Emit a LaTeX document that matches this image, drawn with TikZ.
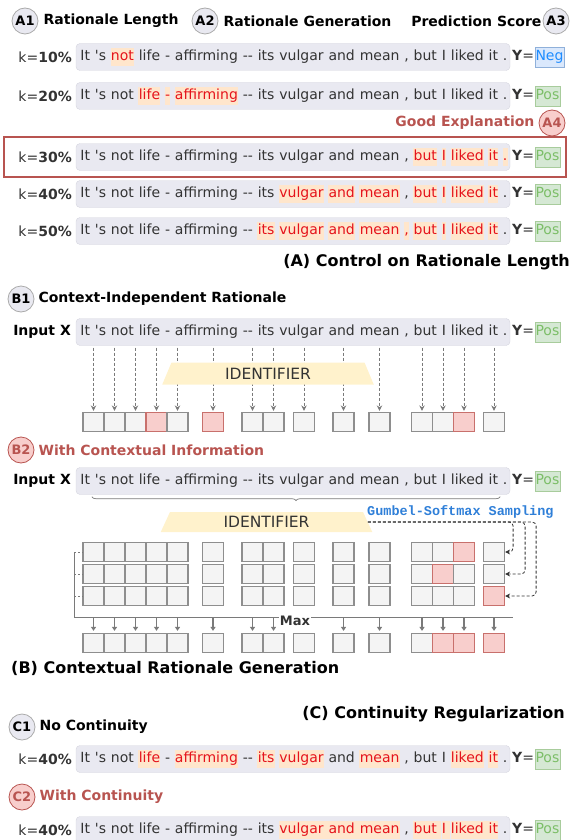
\documentclass[tikz,border=0pt]{standalone}
\usepackage{fontspec}
\setmainfont{DejaVu Sans}
\setmonofont{Liberation Mono}
\usetikzlibrary{positioning,shapes.geometric,decorations.pathreplacing,arrows.meta}

\definecolor{txt}{HTML}{333333}
\definecolor{sentbg}{HTML}{E9E9F1}
\definecolor{sentln}{HTML}{D5D5DF}
\definecolor{hlbg}{HTML}{FFE6CC}
\definecolor{hltx}{HTML}{E5131B}
\definecolor{darkred}{HTML}{B85450}
\definecolor{lightred}{HTML}{F8CECC}
\definecolor{cellred}{HTML}{C8706C}
\definecolor{posbg}{HTML}{D5E8D4}
\definecolor{posln}{HTML}{A8CC9C}
\definecolor{postx}{HTML}{7CBE68}
\definecolor{negbg}{HTML}{DAE8FC}
\definecolor{negln}{HTML}{8FB0DA}
\definecolor{negtx}{HTML}{1E8CFF}
\definecolor{idbg}{HTML}{FFF2CC}
\definecolor{cellbg}{HTML}{F4F4F4}
\definecolor{cellln}{HTML}{8E8E8E}
\definecolor{circln}{HTML}{AAAAAA}
\definecolor{arrgray}{HTML}{7A7A7A}
\definecolor{gumbel}{HTML}{2F7FD8}

\tikzset{
  tok/.style={inner xsep=0.3pt, inner ysep=1.8pt, text height=10.5pt, text depth=3pt},
  sentbox/.style={draw=sentln, fill=sentbg, rounded corners=4pt, minimum width=434pt, minimum height=27pt, inner sep=0pt},
  resPos/.style={tok, fill=posbg, draw=posln, text=postx, inner xsep=0.4pt, inner ysep=3pt},
  resNeg/.style={tok, fill=negbg, draw=negln, text=negtx, inner xsep=0.4pt, inner ysep=3pt},
  klab/.style={anchor=east, inner sep=0pt, text=txt},
  circ/.style={circle, draw=circln, fill=sentbg, line width=0.8pt, minimum size=26pt, inner sep=0pt, font=\bfseries\fontsize{13}{14}\selectfont},
  circred/.style={circ, draw=darkred, fill=lightred, text=darkred},
  head/.style={inner sep=0pt, font=\bfseries\fontsize{14}{16}\selectfont},
  title/.style={inner sep=0pt, font=\bfseries\fontsize{16}{18}\selectfont},
  ident/.style={trapezium, trapezium stretches=true, trapezium left angle=70, trapezium right angle=70, fill=idbg, minimum width=212pt, minimum height=22pt, inner sep=0pt, text=txt, font=\fontsize{15.5}{17}\selectfont},
  cell/.style={line width=1.2pt, minimum width=21pt, minimum height=19pt, inner sep=0pt},
  dasharr/.style={draw=arrgray, dash pattern=on 3pt off 2pt, line width=0.9pt, -{Stealth[length=5.5pt, width=5.5pt]}, shorten <=2pt, shorten >=1pt},
  gumarr/.style={draw=txt, densely dashed, line width=0.8pt, rounded corners=4pt, -{Stealth[length=5pt, width=5pt]}},
  maxln/.style={draw=arrgray, line width=0.8pt},
  maxarr/.style={draw=arrgray, line width=1.2pt, -{Triangle[length=4pt, width=5pt]}},
  brc/.style={draw=arrgray, line width=0.7pt, decorate, decoration={brace, mirror, amplitude=4pt}},
}

% one sentence: name, y, highlighted tokens, label
\newcommand{\sentrow}[4]{%
  \node[sentbox] (#1) at (293,#2) {};
  \coordinate (#1-0) at (76,#2);
  \foreach \w [count=\i] in {It,\textquotesingle s,not,life,-,affirming,-{}-,its,vulgar,and,mean,{,},but,I,liked,it,.}{%
    \gdef\tkfill{none}\gdef\tktext{txt}%
    \foreach \j in {#3}{\ifnum\i=\j\relax\gdef\tkfill{hlbg}\gdef\tktext{hltx}\fi}%
    \pgfmathtruncatemacro\prev{\i-1}%
    \node[tok, fill=\tkfill, text=\tktext, right=3.9pt of #1-\prev] (#1-\i) {\w};
  }%
  \node[tok, anchor=west, inner xsep=0pt, text=txt] (#1-y) at (512,#2) {\textbf{Y}=};
  \node[res#4, right=0.5pt of #1-y] (#1-r) {#4};
}

% one row of cells: name, y, red cells
\newcommand{\cellrow}[3]{%
  \foreach \x [count=\i] in {93.5,114.5,135.5,156.5,177.5,213,252.5,273.5,304,343.5,379.5,422,443,464,494}{%
    \gdef\cfill{cellbg}\gdef\cdraw{cellln}%
    \foreach \j in {#3}{\ifnum\i=\j\relax\gdef\cfill{lightred}\gdef\cdraw{cellred}\fi}%
    \node[cell, fill=\cfill, draw=\cdraw] (#1-\i) at (\x,#2) {};
  }%
}

\begin{document}
\begin{tikzpicture}[x=1pt, y=-1pt, font=\fontsize{14}{16}\selectfont]
  \useasboundingbox (0,0) rectangle (572,840);

  %header
  \node[circ] (a1) at (25,21) {A1};
  \node[head, right=5pt of a1] (a1t) {Rationale Length};
  \node[circ] (a2) at (205,21) {A2};
  \node[head, right=5pt of a2] (a2t) {Rationale Generation};
  \node[circ] (a3) at (556,21) {A3};
  \node[head, left=1pt of a3] (a3t) {Prediction Score};

  %(A) rows
  \node[klab] (k10) at (72,57) {k=\textbf{10\%}};
  \sentrow{r10}{57}{3}{Neg}
  \node[klab] (k20) at (72,96) {k=\textbf{20\%}};
  \sentrow{r20}{96}{4,5,6}{Pos}

  \node[circred] (a4) at (552,123) {A4};
  \node[head, text=darkred, left=4pt of a4] (good) {Good Explanation};
  \node[draw=darkred, line width=1.3pt, minimum width=562pt, minimum height=40pt, inner sep=0pt] (frame) at (285,157) {};

  \node[klab] (k30) at (72,157) {k=\textbf{30\%}};
  \sentrow{r30}{157}{13,14,15,16,17}{Pos}
  \node[klab] (k40) at (72,194) {k=\textbf{40\%}};
  \sentrow{r40}{194}{9,10,11,13,14,15,16}{Pos}
  \node[klab] (k50) at (72,231) {k=\textbf{50\%}};
  \sentrow{r50}{231}{8,9,10,11,12,13,14,15,16}{Pos}

  \node[title, anchor=east] (ta) at (570,262) {(A) Control on Rationale Length};

  %(B1) context-independent
  \node[circ] (b1) at (21,299) {B1};
  \node[head, right=4pt of b1] (b1t) {Context-Independent Rationale};
  \node[head, anchor=east] (inx1) at (71,332) {Input X};
  \sentrow{inp1}{332}{0}{Pos}
  \cellrow{ca}{422}{4,6,14}
  \foreach \i in {1,...,15}
    \draw[dasharr] (inp1.south -| ca-\i) -- (ca-\i.north);
  \node[ident] (id1) at (268,373.5) {IDENTIFIER};

  %(B2) with context
  \node[circred] (b2) at (21,450) {B2};
  \node[head, text=darkred, right=4pt of b2] (b2t) {With Contextual Information};
  \node[head, anchor=east] (inx2) at (71,481) {Input X};
  \sentrow{inp2}{481}{0}{Pos}
  \draw[brc] ([xshift=16pt, yshift=-2pt]inp2.south west) -- ([xshift=-10pt, yshift=-2pt]inp2.south east);
  \node[ident, minimum height=20pt] (id2) at (266.5,522) {IDENTIFIER};
  \node[anchor=west, inner sep=0pt, text=gumbel, font=\ttfamily\bfseries\fontsize{13.5}{15}\selectfont] (gs) at (367,512) {Gumbel-Softmax Sampling};

  \cellrow{s1}{552}{14}
  \cellrow{s2}{574}{13}
  \cellrow{s3}{596}{15}
  \foreach \r/\dx in {s1/8, s2/20, s3/31}
    \draw[gumarr] (id2.east) -| ([xshift=\dx pt]\r-15.east) -- (\r-15.east);

  %max over samples
  \coordinate (mx0) at (74,617);
  \coordinate (mx1) at (513,617);
  \cellrow{mx}{643}{13,14,15}
  \draw[maxln] (mx0 |- s1-1.west) -- (mx0) -- (mx1);
  \foreach \r in {s1,s2,s3}
    \draw[maxln, dashed, dash pattern=on 2pt off 2pt] (mx0 |- \r-1.west) -- (\r-1.west);
  \foreach \i in {1,...,8,10,11,...,15}
    \draw[maxarr] (mx-\i.north |- mx0) -- ([yshift=2pt]mx-\i.north);
  \node[fill=white, inner sep=1pt, text=txt, font=\bfseries\fontsize{13}{14}\selectfont] (max) at (295,621) {Max};

  \node[title, anchor=west] (tb) at (11,668) {(B) Contextual Rationale Generation};

  %(C) continuity
  \node[title, anchor=east] (tc) at (565,714) {(C) Continuity Regularization};
  \node[circ] (c1) at (22,727) {C1};
  \node[head, right=4pt of c1] (c1t) {No Continuity};
  \node[klab] (k40a) at (72,759) {k=\textbf{40\%}};
  \sentrow{nc}{759}{4,6,8,9,11,15,16}{Pos}

  \node[circred] (c2) at (22,797) {C2};
  \node[head, text=darkred, right=4pt of c2] (c2t) {With Continuity};
  \node[klab] (k40b) at (72,830) {k=\textbf{40\%}};
  \sentrow{wc}{830}{9,10,11,13,14,15,16}{Pos}
  \foreach \a/\b in {9/10, 10/11, 13/14, 14/15, 15/16}
    \fill[hlbg] (wc-\a.north east) rectangle (wc-\b.south west);
\end{tikzpicture}
\end{document}
